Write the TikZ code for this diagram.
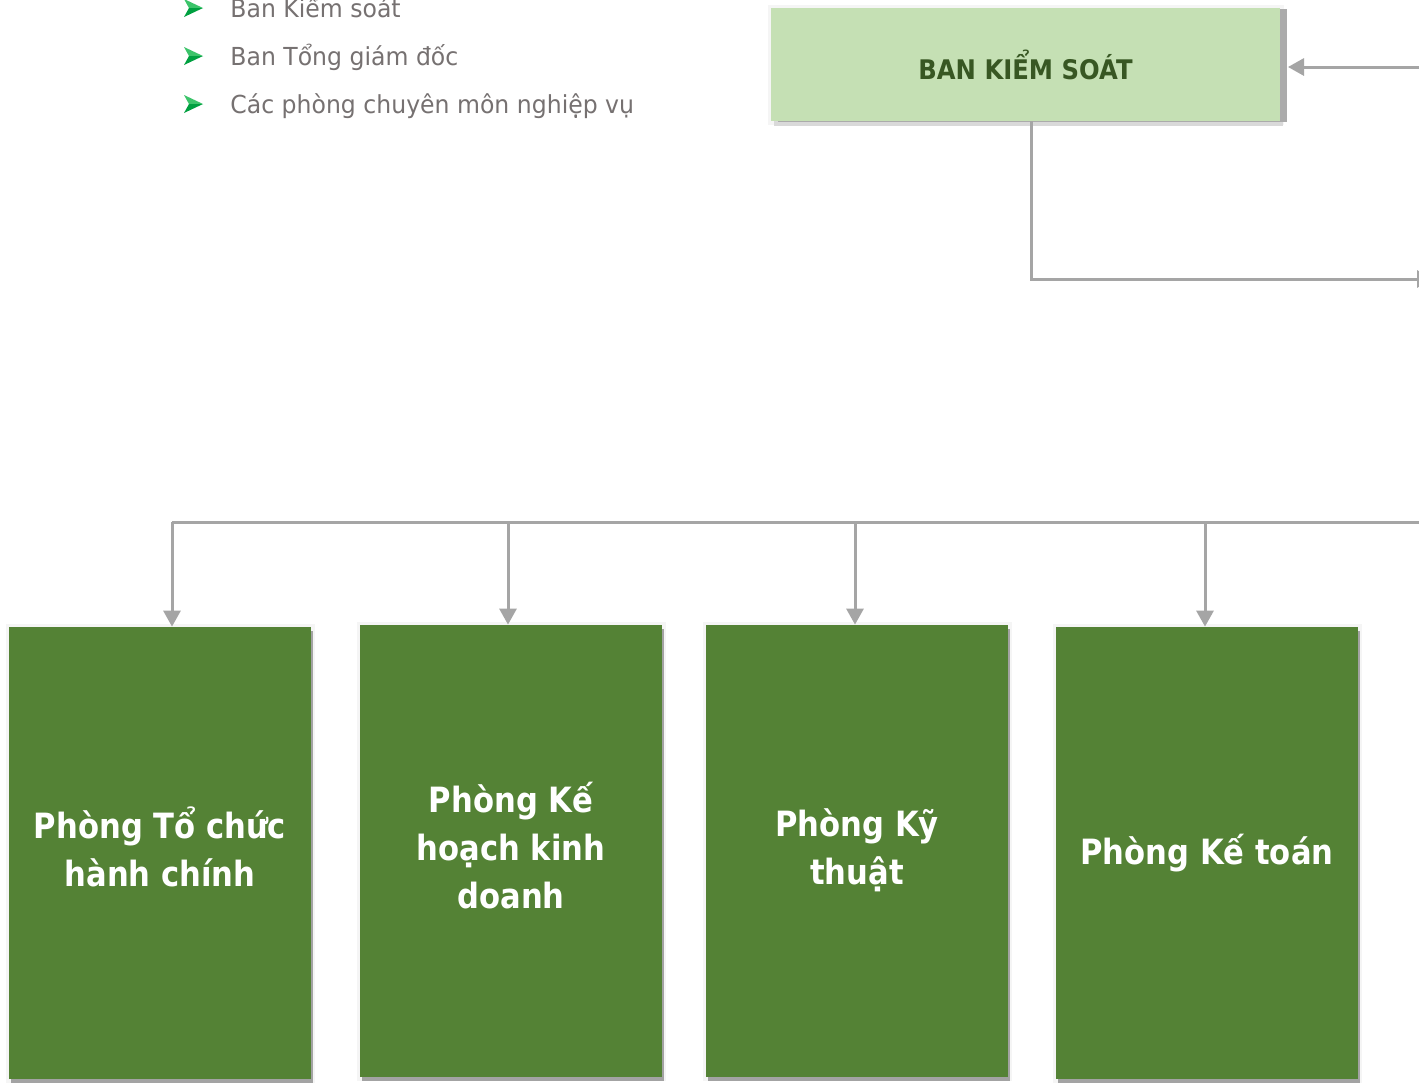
\documentclass[tikz,border=0pt]{standalone}
\usepackage{fontspec}
\setmainfont{DejaVu Sans}
\newfontfamily\regfont[FakeStretch=0.95]{DejaVu Sans}
\newfontfamily\boxfont[FakeStretch=0.88]{DejaVu Sans}
\newfontfamily\titlefont[FakeStretch=0.9]{DejaVu Sans}
\usetikzlibrary{arrows.meta}
\definecolor{darkgreen}{HTML}{548235}
\definecolor{lightgreen}{HTML}{C5E0B4}
\definecolor{titlegreen}{HTML}{385723}
\definecolor{linegray}{HTML}{A5A5A5}
\definecolor{textgray}{HTML}{767171}
\definecolor{bulletlight}{HTML}{3CC46A}
\definecolor{bulletdark}{HTML}{00A040}
\tikzset{
  conn/.style={draw=linegray, line width=1.5pt},
  arr/.style={conn, -{Triangle[length=8pt,width=8.5pt]}},
  bullettext/.style={text=textgray, font=\regfont\fontsize{12.4pt}{14pt}\selectfont, inner sep=0pt, anchor=base west},
  topbox/.style={fill=lightgreen, minimum width=254.5pt, minimum height=56.5pt, inner sep=0pt,
    text=titlegreen, font=\titlefont\bfseries\fontsize{13.5pt}{16pt}\selectfont,
    preaction={fill=black!4, draw=black!4, line width=3.5pt},
    preaction={fill=black!15, transform canvas={xshift=1.5pt,yshift=-2.5pt}},
    preaction={fill=black!33, transform canvas={xshift=3.5pt,yshift=-0.5pt}}},
  deptbox/.style={fill=darkgreen, minimum width=151pt, minimum height=226pt, inner sep=0pt,
    text=white, align=center, font=\boxfont\bfseries\fontsize{17.4pt}{24pt}\selectfont,
    preaction={fill=black!4, draw=black!4, line width=3.5pt},
    preaction={fill=black!36, transform canvas={xshift=1pt,yshift=-2pt}}},
}
\begin{document}
\begin{tikzpicture}[x=0.5pt,y=-0.5pt]
\useasboundingbox[fill=white] (0,0) rectangle (1419,1083);

% bullets
\foreach \yy in {8,56,104}{
  \fill[bulletlight] (184,\yy-9) -- (203,\yy) -- (189,\yy) -- cycle;
  \fill[bulletdark] (189,\yy) -- (203,\yy) -- (184,\yy+9) -- cycle;
}
\node[bullettext] (t1) at (230,17) {Ban Kiểm soát};
\node[bullettext] (t2) at (230,65) {Ban Tổng giám đốc};
\node[bullettext] (t3) at (230,113) {Các phòng chuyên môn nghiệp vụ};

% top box
\node[topbox] (bks) at (1025.5,64.5) {BAN KIỂM SOÁT};

% department boxes
\node[deptbox] (b1) at (160,853) {\raisebox{3pt}{\begin{tabular}{@{}c@{}}Phòng Tổ chức\\hành chính\end{tabular}}};
\node[deptbox] (b2) at (511,851) {\raisebox{3pt}{\begin{tabular}{@{}c@{}}Phòng Kế\\hoạch kinh\\doanh\end{tabular}}};
\node[deptbox] (b3) at (857,851) {\raisebox{3pt}{\begin{tabular}{@{}c@{}}Phòng Kỹ\\thuật\end{tabular}}};
\node[deptbox] (b4) at (1207,853) {Phòng Kế toán};

% connectors
\coordinate (inR) at (1419,67);
\coordinate (bksTip) at (1288,67);
\draw[arr] (inR) -- (bksTip);

\coordinate (bksOut) at (1031,121);
\coordinate (outR) at (1433,279);
\draw[arr] (bksOut) |- (outR);

\coordinate (busL) at (172,522);
\coordinate (busR) at (1419,522);
\draw[conn] (busL) -- (busR);
\coordinate (d2) at (508,522);
\coordinate (d3) at (855,522);
\coordinate (d4) at (1205,522);
\draw[arr] (busL) -- (busL |- b1.north);
\draw[arr] (d2) -- (d2 |- b2.north);
\draw[arr] (d3) -- (d3 |- b3.north);
\draw[arr] (d4) -- (d4 |- b4.north);
\end{tikzpicture}
\end{document}
